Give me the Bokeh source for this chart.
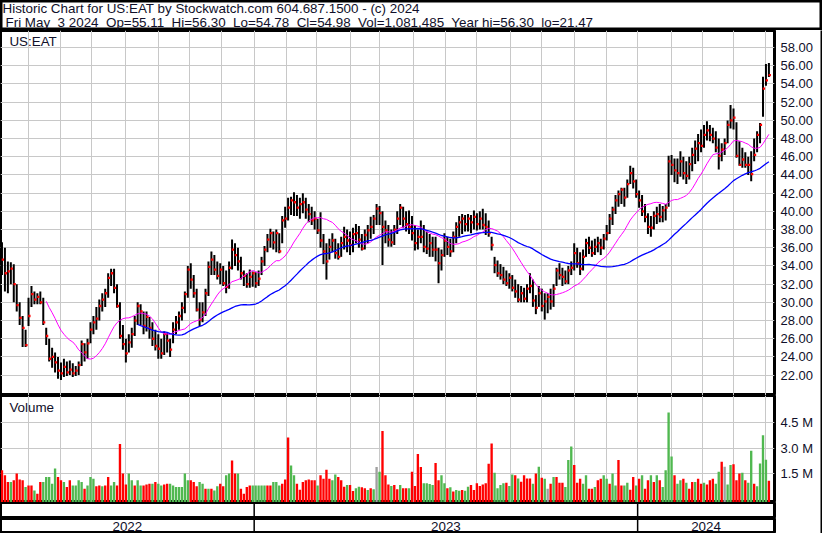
import pandas as pd
from bokeh.plotting import figure
from bokeh.layouts import column, row
from bokeh.models import Range1d, FixedTicker, Grid, Span, PrintfTickFormatter
from bokeh.embed import file_html
from bokeh.resources import INLINE
from bokeh.core.properties import value

# ---------------- data (each bar = two trading days) ----------------
high = [
    36.6, 36.0, 34.5, 34.4, 34.2, 32.0, 30.0, 28.5, 27.0, 30.5,
    31.8, 31.2, 31.0, 31.2, 30.5, 27.2, 26.0, 25.0, 24.5, 24.0,
    23.4, 23.8, 23.5, 23.6, 23.3, 23.0, 23.5, 25.8, 25.5, 26.0,
    27.8, 28.5, 29.5, 30.3, 31.0, 31.5, 33.2, 33.7, 33.7, 32.0,
    30.0, 27.5, 26.0, 26.5, 27.2, 28.5, 30.0, 29.8, 29.0, 29.0,
    28.4, 27.8, 27.0, 26.5, 26.0, 26.8, 26.6, 26.0, 27.8, 28.5,
    29.0, 30.0, 31.2, 34.0, 34.3, 33.0, 31.5, 30.0, 30.0, 31.5,
    34.5, 35.6, 35.2, 34.5, 34.3, 34.0, 33.5, 34.5, 36.9, 36.5,
    36.0, 35.0, 33.5, 33.2, 33.6, 33.4, 33.3, 33.5, 35.0, 36.2,
    37.5, 38.1, 37.8, 38.0, 37.6, 39.5, 40.5, 41.5, 41.6, 42.1,
    41.8, 41.5, 42.0, 41.5, 40.8, 40.5, 40.0, 39.2, 39.9, 37.5,
    36.5, 37.0, 37.6, 37.0, 36.5, 37.2, 38.3, 38.0, 37.8, 38.2,
    38.6, 38.4, 37.5, 38.0, 38.5, 39.4, 39.6, 40.8, 40.6, 40.0,
    39.0, 38.5, 38.0, 38.5, 40.0, 40.8, 40.5, 40.0, 40.1, 39.5,
    38.5, 38.0, 39.0, 38.5, 37.8, 37.5, 37.2, 37.2, 36.0, 35.8,
    37.6, 37.2, 37.0, 37.8, 38.8, 39.5, 39.7, 39.6, 39.7, 39.6,
    40.1, 39.8, 40.0, 40.3, 39.8, 39.0, 37.2, 35.0, 34.6, 34.2,
    33.9, 33.5, 33.2, 33.0, 32.5, 32.0, 31.8, 31.6, 32.0, 33.2,
    32.5, 30.8, 31.8, 31.5, 31.0, 31.0, 31.5, 32.0, 33.8, 34.3,
    33.8, 33.5, 34.0, 34.5, 36.5, 36.0, 35.5, 35.8, 37.0, 37.2,
    36.8, 37.0, 37.2, 37.0, 37.5, 38.5, 39.7, 40.5, 41.8, 42.3,
    42.6, 42.6, 43.5, 45.0, 44.8, 43.5, 42.3, 41.8, 40.8, 39.8,
    39.5, 40.0, 40.5, 40.8, 40.6, 40.8, 46.1, 46.2, 45.8, 45.8,
    46.6, 46.0, 45.5, 46.0, 47.0, 47.8, 48.5, 49.0, 49.5, 49.9,
    49.5, 49.2, 48.8, 48.0, 47.5, 48.0, 50.0, 51.7, 51.3, 49.8,
    47.7, 47.0, 46.5, 46.0, 46.6, 48.0, 48.8, 49.7, 54.8, 56.2, 56.3,
]
low = [
    33.0, 31.2, 31.0, 32.0, 30.0, 29.0, 27.5, 25.1, 25.1, 27.4,
    29.5, 29.8, 29.8, 29.8, 27.5, 25.3, 23.5, 22.8, 22.3, 21.6,
    21.47, 21.8, 21.9, 22.0, 21.8, 21.9, 22.0, 23.0, 23.5, 23.8,
    25.5, 26.5, 27.0, 28.0, 29.0, 29.5, 30.5, 31.8, 31.0, 29.4,
    26.0, 24.8, 23.4, 24.5, 25.0, 26.3, 27.5, 27.5, 26.5, 26.8,
    26.0, 25.2, 24.7, 23.8, 23.8, 24.2, 24.5, 24.0, 25.5, 26.5,
    27.0, 28.0, 28.8, 30.5, 31.5, 30.5, 29.0, 27.4, 27.8, 28.5,
    30.7, 33.0, 33.0, 32.5, 32.0, 31.8, 31.0, 31.5, 33.6, 34.0,
    33.5, 32.5, 31.8, 31.6, 31.6, 31.7, 31.6, 31.8, 33.0, 34.0,
    35.5, 36.0, 35.8, 35.5, 35.4, 36.5, 38.2, 39.0, 39.6, 39.5,
    39.5, 39.2, 39.8, 39.2, 38.8, 38.5, 38.0, 37.5, 36.0, 34.2,
    32.5, 34.7, 35.5, 34.8, 34.7, 35.0, 35.8, 35.5, 35.2, 35.5,
    36.5, 36.0, 35.7, 35.8, 36.5, 37.0, 37.5, 38.5, 38.5, 34.1,
    36.5, 36.1, 36.1, 36.3, 37.5, 38.5, 38.2, 37.8, 37.5, 36.8,
    35.7, 35.8, 36.5, 35.5, 35.3, 35.0, 35.0, 34.5, 32.1, 33.5,
    35.0, 35.2, 35.0, 35.5, 36.5, 37.2, 37.5, 37.8, 37.8, 37.6,
    38.0, 37.9, 38.0, 38.0, 37.4, 37.2, 35.7, 33.2, 32.8, 32.5,
    32.0, 31.8, 31.5, 31.2, 30.5, 30.0, 30.0, 30.0, 30.0, 31.0,
    29.5, 28.7, 29.5, 29.0, 28.1, 28.8, 29.2, 29.5, 31.8, 32.5,
    31.8, 32.0, 32.0, 33.0, 33.5, 33.8, 33.0, 33.5, 35.0, 35.3,
    35.0, 35.2, 35.5, 35.2, 35.8, 36.8, 37.5, 38.5, 39.7, 40.5,
    40.8, 40.5, 41.5, 43.0, 42.5, 41.5, 40.4, 39.5, 38.8, 37.5,
    37.2, 38.0, 38.6, 38.8, 38.8, 39.0, 40.5, 44.0, 43.2, 43.0,
    43.8, 43.5, 43.0, 43.5, 44.4, 45.2, 45.5, 46.5, 47.0, 47.8,
    47.7, 47.5, 46.5, 44.6, 45.5, 46.2, 47.5, 49.1, 49.0, 45.9,
    45.0, 44.8, 44.8, 44.0, 43.3, 45.5, 46.5, 47.5, 50.4, 53.8, 54.78,
]
close = [
    34.7, 33.2, 33.4, 33.7, 32.0, 29.7, 28.3, 27.2, 25.3, 28.5,
    30.9, 30.3, 30.6, 30.0, 27.8, 26.3, 23.8, 24.0, 23.4, 22.5,
    22.2, 22.9, 22.3, 22.6, 22.2, 22.5, 23.1, 25.4, 24.5, 25.5,
    27.0, 27.8, 28.2, 29.6, 30.3, 31.0, 32.7, 33.2, 31.6, 29.6,
    26.3, 25.4, 24.4, 25.6, 26.5, 28.0, 29.6, 29.0, 27.4, 28.4,
    27.2, 26.0, 25.2, 24.9, 24.4, 26.5, 25.8, 24.8, 27.0, 27.8,
    28.5, 29.4, 30.9, 33.6, 32.5, 31.0, 29.2, 28.1, 28.9, 31.0,
    33.9, 34.7, 33.6, 32.9, 33.6, 32.1, 31.7, 33.8, 35.8, 35.2,
    34.5, 33.2, 32.9, 32.0, 32.8, 33.2, 32.1, 32.6, 34.5, 35.8,
    36.9, 37.6, 36.6, 37.6, 35.6, 39.0, 39.2, 40.4, 41.2, 41.0,
    40.4, 40.8, 41.0, 40.2, 39.7, 39.0, 39.2, 37.9, 36.8, 35.6,
    34.5, 36.1, 36.8, 35.4, 35.0, 36.5, 37.2, 36.8, 36.3, 37.5,
    37.6, 36.9, 35.9, 37.4, 37.9, 38.3, 39.2, 40.3, 39.8, 38.3,
    37.9, 36.9, 36.6, 38.0, 39.2, 40.4, 39.2, 38.6, 38.3, 37.6,
    36.5, 37.2, 37.2, 36.1, 35.9, 36.5, 35.8, 35.8, 34.3, 35.2,
    36.8, 36.1, 35.6, 37.2, 38.3, 38.8, 39.2, 38.6, 39.2, 38.8,
    39.4, 38.6, 39.2, 38.5, 38.3, 37.6, 36.3, 34.1, 33.2, 33.0,
    32.5, 32.1, 32.7, 31.6, 31.2, 30.3, 31.0, 30.4, 31.5, 31.8,
    30.2, 29.4, 31.0, 29.6, 30.1, 30.6, 30.1, 31.5, 33.5, 33.0,
    32.8, 32.3, 33.5, 33.8, 35.4, 34.3, 33.7, 35.0, 36.5, 36.0,
    35.4, 36.1, 36.5, 36.0, 37.0, 37.6, 39.2, 40.2, 41.2, 41.9,
    42.4, 41.5, 43.0, 44.2, 43.3, 41.9, 41.2, 40.0, 39.4, 38.3,
    38.2, 39.5, 39.7, 39.4, 40.1, 40.4, 45.5, 45.1, 44.5, 44.2,
    45.5, 44.2, 43.9, 45.2, 46.2, 46.9, 47.5, 47.2, 48.4, 48.9,
    48.4, 48.0, 47.0, 46.1, 46.8, 47.5, 49.5, 50.0, 50.3, 46.1,
    45.1, 45.7, 45.1, 45.1, 44.1, 46.2, 48.4, 49.5, 53.5, 54.4, 54.98,
]
volume_m = [
    1.69, 1.4, 1.0, 1.0, 1.1, 1.5, 1.15, 1.1, 0.7, 0.8,
    0.8, 0.5, 0.3, 1.0, 1.0, 1.3, 1.3, 0.9, 1.8, 1.3,
    1.1, 1.0, 0.7, 1.1, 0.8, 0.8, 1.1, 1.0, 0.6, 0.8,
    1.3, 1.2, 0.75, 0.8, 0.75, 0.8, 1.3, 0.8, 1.0, 0.8,
    3.24, 1.5, 0.85, 1.5, 1.1, 0.8, 1.1, 0.8, 0.8, 0.85,
    0.9, 0.9, 1.0, 0.9, 0.8, 0.85, 0.9, 0.9, 0.8, 0.7,
    0.7, 0.7, 1.5, 1.1, 1.1, 1.0, 0.75, 1.0, 0.9, 0.6,
    0.6, 0.6, 0.5, 0.75, 0.9, 0.75, 1.4, 1.5, 2.27, 1.5,
    1.5, 0.6, 0.3, 0.7, 0.8, 0.8, 0.8, 0.8, 0.8, 0.8,
    0.8, 0.8, 1.0, 1.0, 0.8, 0.9, 1.15, 3.63, 1.98, 1.4,
    0.9, 0.55, 1.0, 1.1, 1.15, 1.1, 1.1, 0.8, 1.4, 1.2,
    1.73, 1.2, 1.1, 1.45, 1.3, 1.1, 0.72, 0.82, 0.82, 0.47,
    0.63, 0.72, 0.69, 0.63, 0.53, 0.63, 0.57, 1.89, 1.6, 4.01,
    1.4, 0.86, 0.76, 0.82, 0.57, 0.82, 0.63, 0.63, 0.63, 1.6,
    0.76, 2.66, 1.89, 0.92, 0.92, 0.88, 0.82, 2.12, 1.1, 1.4,
    0.92, 0.63, 0.69, 0.44, 0.53, 0.49, 0.53, 0.49, 0.72, 0.82,
    0.53, 0.92, 0.76, 0.86, 0.92, 2.08, 3.28, 1.55, 0.63, 0.82,
    0.92, 0.96, 0.76, 1.44, 1.4, 1.21, 1.02, 1.4, 1.21, 1.21,
    0.9, 1.5, 1.9, 1.25, 1.2, 0.6, 0.9, 1.3, 1.3, 0.95,
    0.95, 0.7, 2.3, 3.1, 2.0, 0.95, 1.2, 0.9, 1.4, 0.6,
    0.6, 0.7, 1.1, 1.2, 1.4, 1.2, 0.9, 1.5, 0.8, 2.3,
    0.8, 0.8, 0.95, 0.55, 1.3, 0.8, 1.2, 1.4, 0.6, 1.1,
    1.4, 1.0, 1.4, 1.1, 0.7, 1.7, 5.1, 2.5, 1.4, 0.9,
    1.1, 1.2, 0.95, 0.6, 1.0, 1.0, 1.2, 0.9, 0.95, 0.85,
    1.1, 1.2, 0.9, 1.6, 2.2, 1.9, 0.85, 2.0, 2.05, 1.1,
    1.5, 1.55, 1.1, 0.95, 2.85, 0.9, 0.75, 2.1, 3.76, 2.32, 1.08,
]
# up (G) / down (R) / unchanged (N) per volume bar
vol_dir = ("RRRGRRRRGR" "RGRRGGGGGR" "RGRRGGGGRG" "GGRRGRRGGR" "RRRGGRGGRR"
           "RGRGGRRGGG" "GGGGRRRGGR" "GRGGRRGGRR" "GRRRRGGGGG" "RRGGGRRRGG"
           "RRRRRRRGRR" "RRGGRRRGRR" "GGRRGRGNGR" "RRGRRGRRGR" "RRRGGGGRRG"
           "GRGRGGRGGR" "RRRRRRRGGG" "GRGGRGRRRR" "GRGRGNRGRR" "RGGGRRRGGR"
           "RGRRGGRGGR" "RGGRRGRGRR" "GRGRGGGGRG" "GRGRRGRRGR" "RRGGRNGGRR"
           "RGRGGRGGGGR")
year_labels = ["2022", "2023", "2024"]
price_ticks = [22, 24, 26, 28, 30, 32, 34, 36, 38, 40, 42, 44, 46, 48, 50, 52, 54, 56, 58]
volume_ticks = [1.5, 3.0, 4.5]
header_line1 = "Historic Chart for US:EAT by Stockwatch.com 604.687.1500 - (c) 2024"
header_line2 = ("Fri May\u00a0 3 2024\u00a0 Op=55.11\u00a0 Hi=56.30\u00a0 Lo=54.78\u00a0 "
                "Cl=54.98\u00a0 Vol=1,081,485\u00a0 Year hi=56.30\u00a0 lo=21.47")
symbol = "US:EAT"
volume_title = "Volume"

# ---------------- derived ----------------
n = len(close)
idx = list(range(n))
bdays = pd.bdate_range(end="2024-05-03", periods=2 * n)
month_pos, year_pos = [], []
for j in range(1, len(bdays)):
    if bdays[j].month != bdays[j - 1].month:
        pos = (j - 1) / 2.0
        month_pos.append(pos)
        if bdays[j].year != bdays[j - 1].year:
            year_pos.append(pos)

cs = pd.Series(close, dtype=float)
ma_fast = cs.rolling(16).mean().to_numpy()
ma_slow = cs.rolling(47).mean().to_numpy()
col_map = {"R": "#FF0000", "G": "#50B850", "N": "#A0A0A0"}
vol_colors = [col_map[c] for c in vol_dir]

# ---------------- styling ----------------
FONT = "Liberation Sans"
FS = "13.4px"
TXT = "#10102a"
GRID = "#C8C8C8"
PW = 820          # panel canvas width
RB = 46           # right label area
FW = PW - RB      # frame width
XS, XE = -0.5, 261.9
H_HEAD, H_PRICE, H_VOL, H_EMPTY, H_YEAR = 30, 365, 107, 16, 15
P_LO, P_HI = 19.76, 59.88
V_LO, V_HI = -0.21, 6.11
PX_X = FW / (XE - XS)


def panel(height, y_lo, y_hi, right_axis=True):
    p = figure(width=PW, height=height, x_range=Range1d(XS, XE), y_range=Range1d(y_lo, y_hi),
               output_backend="svg", toolbar_location=None, x_axis_location=None,
               y_axis_location="right" if right_axis else None,
               min_border=0, min_border_right=RB,
               outline_line_color="black", outline_line_width=3,
               background_fill_color="white", border_fill_color="white")
    p.center = [c for c in p.center if not isinstance(c, Grid)]
    return p


def style_axis(ax, ticks, fmt):
    ax.ticker = FixedTicker(ticks=ticks)
    ax.formatter = PrintfTickFormatter(format=fmt)
    ax.axis_line_color = None
    ax.major_tick_line_color = None
    ax.minor_tick_line_color = None
    ax.major_tick_out = 0
    ax.major_tick_in = 0
    ax.major_label_standoff = 6
    ax.major_label_text_font = FONT
    ax.major_label_text_font_size = "13px"
    ax.major_label_text_color = TXT


# header (y measured downward from the top of the header strip)
hd = figure(width=822, height=H_HEAD, x_range=Range1d(0, 822), y_range=Range1d(H_HEAD, 0),
            output_backend="svg", toolbar_location=None, x_axis_location=None, y_axis_location=None,
            min_border=0, outline_line_color="black", outline_line_width=4,
            background_fill_color="white", border_fill_color="white")
hd.center = [c for c in hd.center if not isinstance(c, Grid)]
hd.text(x=[2, 5], y=[8.3, 21.8], text=[header_line1, header_line2], text_align="left",
        text_baseline="middle", text_font=value(FONT), text_font_size=FS, text_color=TXT)

# price panel
pf = panel(H_PRICE, P_LO, P_HI)
style_axis(pf.yaxis[0], price_ticks, "%.2f")
pf.add_layout(Grid(dimension=0, ticker=FixedTicker(ticks=month_pos), grid_line_color=GRID, grid_line_width=1), "center")
pf.add_layout(Grid(dimension=1, ticker=FixedTicker(ticks=price_ticks), grid_line_color=GRID, grid_line_width=1), "center")
pf.segment(x0=idx, y0=low, x1=idx, y1=high, line_color="black", line_width=2)
pf.scatter(x=[i + 0.3 for i in idx], y=close, marker="square", size=2.3,
           fill_color="#FF0000", line_color=None)
pf.line(idx, ma_fast, line_color="#FF00FF", line_width=1)
pf.line(idx, ma_slow, line_color="#0000FF", line_width=1.3)
py_px = H_PRICE / (P_HI - P_LO)
pf.text(x=[XS + 8.9 / PX_X], y=[P_HI - 11.4 / py_px], text=[symbol], text_align="left",
        text_baseline="middle", text_font=value(FONT), text_font_size=FS, text_color=TXT)

# volume panel
vf = panel(H_VOL, V_LO, V_HI)
style_axis(vf.yaxis[0], volume_ticks, "%.1f M")
vf.add_layout(Grid(dimension=0, ticker=FixedTicker(ticks=month_pos), grid_line_color=GRID, grid_line_width=1), "center")
vf.add_layout(Grid(dimension=1, ticker=FixedTicker(ticks=volume_ticks), grid_line_color=GRID, grid_line_width=1), "center")
vf.vbar(x=idx, top=volume_m, bottom=V_LO, width=0.8, fill_color=vol_colors, line_color=None)
vy_px = H_VOL / (V_HI - V_LO)
vf.text(x=[XS + 8.9 / PX_X], y=[V_HI - 11.9 / vy_px], text=[volume_title], text_align="left",
        text_baseline="middle", text_font=value(FONT), text_font_size=FS, text_color=TXT)

# empty month row and year row
ef = panel(H_EMPTY, 0, 1, right_axis=False)
yf = panel(H_YEAR, 0, 1, right_axis=False)
for f in (ef, yf):
    for yp in year_pos:
        f.add_layout(Span(location=yp, dimension="height", line_color="black", line_width=1.5))
bounds = [XS] + year_pos + [XE]
centers = [(bounds[k] + bounds[k + 1]) / 2.0 for k in range(len(year_labels))]
yf.text(x=centers, y=[0.5] * len(centers), text=year_labels, text_align="center",
        text_baseline="middle", text_font=value(FONT), text_font_size=FS, text_color=TXT)


def strip(w, h):
    s = figure(width=w, height=h, x_range=Range1d(0, 1), y_range=Range1d(0, 1),
               output_backend="svg", toolbar_location=None, x_axis_location=None,
               y_axis_location=None, min_border=0, outline_line_color=None,
               background_fill_color="black", border_fill_color="black")
    s.center = [c for c in s.center if not isinstance(c, Grid)]
    return s


right_strip = strip(2, H_PRICE + H_VOL + H_EMPTY + H_YEAR)
bottom_strip = strip(822, 2)

layout = column(hd, row(column(pf, vf, ef, yf), right_strip), bottom_strip)

open("out.html", "w").write(file_html(layout, INLINE))
